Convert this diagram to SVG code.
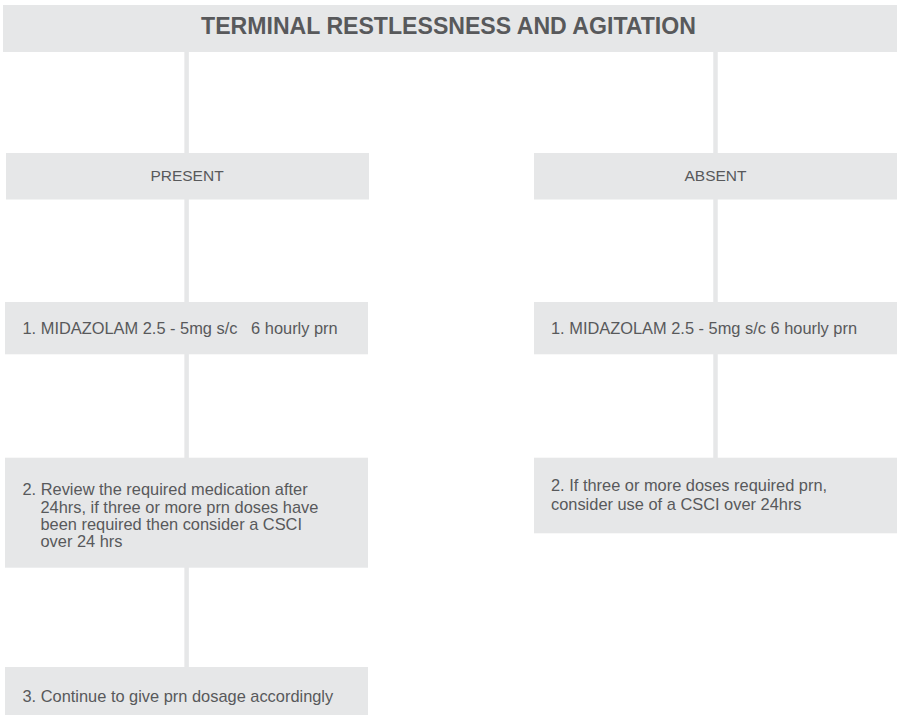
<svg xmlns="http://www.w3.org/2000/svg" width="897" height="715" viewBox="0 0 897 715">
<style>
.box{fill:#e6e7e8}
.conn{stroke:#e6e7e8;stroke-width:4.5;fill:none}
.t{font-family:"Liberation Sans",Arial,Helvetica,sans-serif;font-size:16.4px;fill:#58595b}
.h{font-family:"Liberation Sans",Arial,Helvetica,sans-serif;font-size:15.5px;fill:#58595b}
.title{font-family:"Liberation Sans",Arial,Helvetica,sans-serif;font-size:23.1px;font-weight:bold;fill:#58595b}
</style>
<rect width="897" height="715" fill="#ffffff"/>
<g id="connectors">
<line class="conn" x1="186.6" y1="51" x2="186.6" y2="154"/>
<line class="conn" x1="186.6" y1="198" x2="186.6" y2="303"/>
<line class="conn" x1="186.6" y1="353" x2="186.6" y2="459"/>
<line class="conn" x1="186.6" y1="567" x2="186.6" y2="668"/>
<line class="conn" x1="715.5" y1="51" x2="715.5" y2="154"/>
<line class="conn" x1="715.5" y1="198" x2="715.5" y2="303"/>
<line class="conn" x1="715.5" y1="353" x2="715.5" y2="459"/>
</g>
<g id="title">
<rect class="box" x="3" y="5" width="894" height="47"/>
<text class="title" x="448.5" y="34.3" text-anchor="middle">TERMINAL RESTLESSNESS AND AGITATION</text>
</g>
<g id="present">
<rect class="box" x="6" y="153" width="363" height="46.5"/>
<text class="h" x="187" y="181" text-anchor="middle">PRESENT</text>
</g>
<g id="absent">
<rect class="box" x="534" y="153" width="363" height="46.5"/>
<text class="h" x="715.5" y="181" text-anchor="middle">ABSENT</text>
</g>
<g id="present-1">
<rect class="box" x="5" y="302" width="363" height="52.3"/>
<text class="t" x="22.5" y="333.5" xml:space="preserve">1. MIDAZOLAM 2.5 - 5mg s/c   6 hourly prn</text>
</g>
<g id="absent-1">
<rect class="box" x="534" y="302" width="363" height="52.3"/>
<text class="t" x="551" y="333.5">1. MIDAZOLAM 2.5 - 5mg s/c 6 hourly prn</text>
</g>
<g id="present-2">
<rect class="box" x="5" y="457.7" width="363" height="110"/>
<text class="t" x="22.5" y="495.3">2. Review the required medication after</text>
<text class="t" x="40.5" y="512.6">24hrs, if three or more prn doses have</text>
<text class="t" x="40.5" y="530">been required then consider a CSCI</text>
<text class="t" x="40.5" y="547.3">over 24 hrs</text>
</g>
<g id="absent-2">
<rect class="box" x="534" y="457.7" width="363" height="75.6"/>
<text class="t" x="551" y="491">2. If three or more doses required prn,</text>
<text class="t" x="551" y="510">consider use of a CSCI over 24hrs</text>
</g>
<g id="present-3">
<rect class="box" x="5" y="667" width="363" height="52"/>
<text class="t" x="22.5" y="702">3. Continue to give prn dosage accordingly</text>
</g>
</svg>
